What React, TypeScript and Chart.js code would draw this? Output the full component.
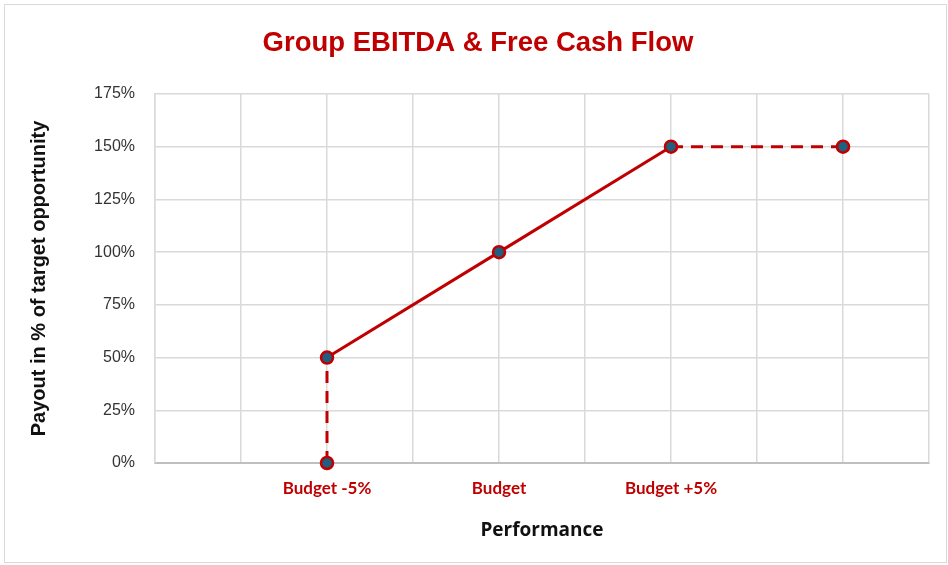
import React, { useEffect, useRef } from 'react';
import { Chart, registerables } from 'chart.js';

Chart.register(...registerables);

// Performance vs budget (%), payout (% of target opportunity)
const performance = [-5, -5, 0, 5, 10];
const payout = [0, 50, 100, 150, 150];
// style of each segment between consecutive points
const segmentStyles = ['dashed', 'solid', 'solid', 'dashed'];

const xTickValues = [-5, 0, 5];
const xTickLabels = ['Budget -5%', 'Budget', 'Budget +5%'];
const xMin = -10;
const xMax = 12.5;
const xStep = 2.5;

const yMin = 0;
const yMax = 175;
const yStep = 25;

const titleText = 'Group EBITDA & Free Cash Flow';
const xTitle = 'Performance';
const yTitle = 'Payout in % of target opportunity';

const RED = '#C00000';
const BLUE = '#1F5F80';
const GRID = '#d9d9d9';

const borderPlugin = {
  id: 'outerBorder',
  beforeDraw(chart: any) {
    const { ctx, width, height } = chart;
    ctx.save();
    ctx.fillStyle = '#ffffff';
    ctx.fillRect(0, 0, width, height);
    ctx.strokeStyle = '#d9d9d9';
    ctx.lineWidth = 1;
    ctx.strokeRect(4.5, 4.5, width - 6, height - 7);
    ctx.restore();
  },
};

export default function App() {
  const ref = useRef<HTMLCanvasElement | null>(null);

  useEffect(() => {
    document.body.style.margin = '0';
    const canvas = ref.current;
    if (!canvas) return;
    const points = performance.map((x, i) => ({ x, y: payout[i] }));
    const chart = new Chart(canvas, {
      type: 'scatter',
      data: {
        datasets: [
          {
            data: points,
            showLine: true,
            clip: false,
            borderColor: RED,
            borderWidth: 3,
            pointRadius: 6,
            pointBorderWidth: 2.5,
            pointBackgroundColor: BLUE,
            pointBorderColor: RED,
            segment: {
              borderDash: (ctx: any) =>
                segmentStyles[ctx.p0DataIndex] === 'dashed' ? [12, 8] : undefined,
            },
          } as any,
        ],
      },
      options: {
        animation: false,
        responsive: false,
        layout: { padding: { left: 27, right: 19, top: 10, bottom: 20 } },
        plugins: {
          legend: { display: false },
          tooltip: { enabled: false },
          title: {
            display: true,
            text: titleText,
            color: RED,
            font: { family: "'Liberation Sans', Arial, sans-serif", size: 27.5, weight: 'bold' },
            padding: { top: 17, bottom: 34 },
          },
        },
        scales: {
          x: {
            type: 'linear',
            min: xMin,
            max: xMax,
            afterFit: (s: any) => { s.height = 82; },
            afterBuildTicks: (s: any) => {
              const t = [];
              for (let v = xMin; v <= xMax + 1e-9; v += xStep) t.push({ value: v });
              s.ticks = t;
            },
            grid: { color: GRID, lineWidth: 1.5, drawTicks: false },
            border: { color: '#bfbfbf', width: 2 },
            ticks: {
              stepSize: xStep,
              padding: 15,
              autoSkip: false,
              maxRotation: 0,
              color: RED,
              font: { family: "Lato, 'Open Sans', sans-serif", size: 17, weight: 'bold' },
              callback: (v: any) => {
                const i = xTickValues.indexOf(Number(v));
                return i >= 0 ? xTickLabels[i] : '';
              },
            },
            title: {
              display: true,
              text: xTitle,
              color: '#111111',
              font: { family: "'Open Sans', Lato, sans-serif", size: 19, weight: 'bold' },
              padding: { top: 0, bottom: 3 },
            },
          },
          y: {
            min: yMin,
            max: yMax,
            afterFit: (s: any) => { s.width = 128; },
            grid: { color: GRID, lineWidth: 1.5, drawTicks: false },
            border: { color: GRID, width: 1.5 },
            ticks: {
              stepSize: yStep,
              padding: 20,
              color: '#333333',
              font: { family: "'Liberation Sans', Arial, sans-serif", size: 16 },
              callback: (v: any) => v + '%',
            },
            title: {
              display: true,
              text: yTitle,
              color: '#111111',
              font: { family: "'Liberation Sans', Arial, sans-serif", size: 20, weight: 'bold' },
              padding: { top: 0, bottom: 0 },
            },
          },
        },
      },
      plugins: [borderPlugin],
    });
    return () => chart.destroy();
  }, []);

  return <canvas ref={ref} width={948} height={565} style={{ display: 'block' }} />;
}
